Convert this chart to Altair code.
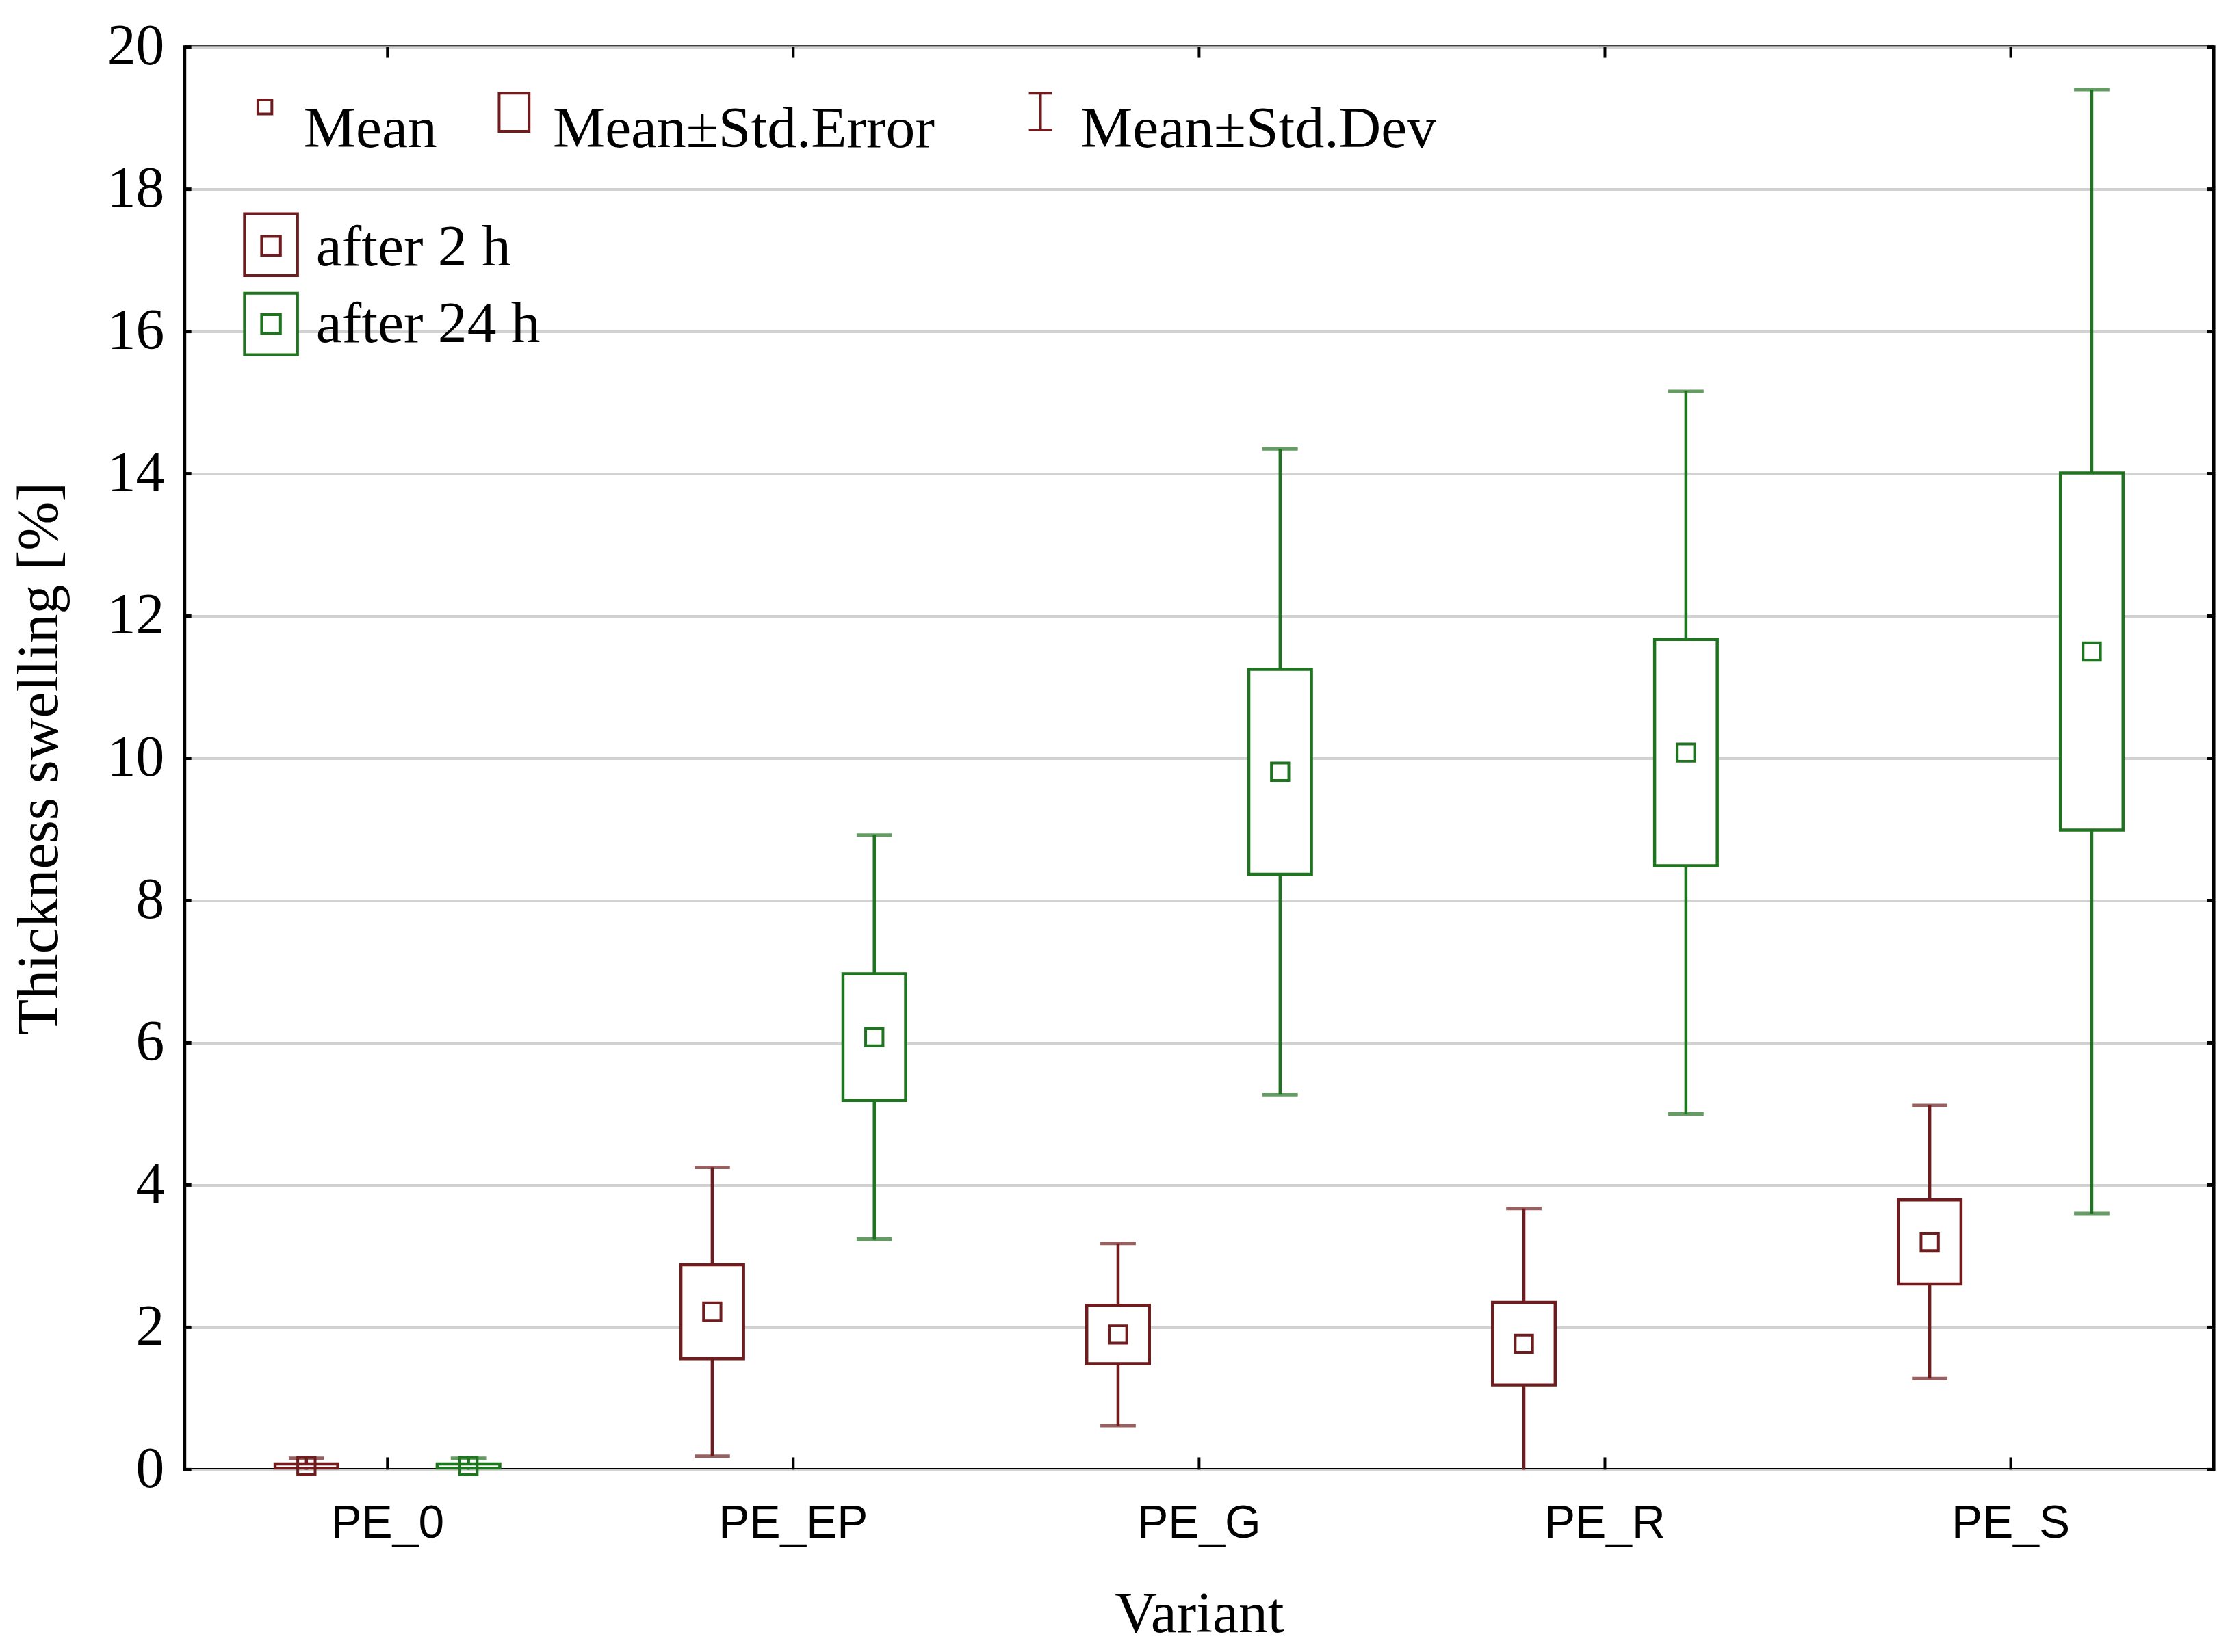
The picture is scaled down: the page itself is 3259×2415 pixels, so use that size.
import altair as alt
import pandas as pd

# ---- data ----
variants = ["PE_0", "PE_EP", "PE_G", "PE_R", "PE_S"]
groups = ["after 2 h", "after 24 h"]

mean_2h = [0.05, 2.22, 1.90, 1.77, 3.20]
se_2h = [0.03, 0.66, 0.41, 0.58, 0.59]
sd_2h = [0.11, 2.03, 1.28, 1.90, 1.92]

mean_24h = [0.05, 6.08, 9.81, 10.08, 11.50]
se_24h = [0.03, 0.89, 1.44, 1.59, 2.51]
sd_24h = [0.11, 2.84, 4.54, 5.08, 7.90]

y_ticks = [0, 2, 4, 6, 8, 10, 12, 14, 16, 18, 20]
stat_labels = ["Mean", "Mean\u00b1Std.Error", "Mean\u00b1Std.Dev"]
x_title = "Variant"
y_title = "Thickness swelling [%]"

RED = "#6E1C1E"
GREEN = "#1F7420"
SERIF = "Liberation Serif"
SANS = "Liberation Sans"

W, H = 2980, 2090

rows = []
for g, m, s, d in [(groups[0], mean_2h, se_2h, sd_2h), (groups[1], mean_24h, se_24h, sd_24h)]:
    for v, mm, ss, dd in zip(variants, m, s, d):
        rows.append(dict(variant=v, group=g, mean=mm, se_lo=mm - ss, se_hi=mm + ss,
                         sd_lo=mm - dd, sd_hi=mm + dd))
df = pd.DataFrame(rows)

xscale = alt.Scale(paddingInner=0, paddingOuter=0)
xaxis = alt.Axis(title=x_title, labelFont=SANS, labelFontSize=68, labelColor="black",
                 labelAngle=0, labelLimit=0, labelAlign="center", labelBaseline="top",
                 ticks=False, domain=False, labelPadding=46, grid=False,
                 titleFont=SERIF, titleFontSize=86, titleFontWeight="normal", titleColor="black",
                 titleX=W / 2, titleY=212, titleBaseline="middle", titleAlign="center")
yscale = alt.Scale(domain=[0, 20], nice=False)
yaxis = alt.Axis(title=y_title, values=y_ticks, labelFont=SERIF, labelFontSize=84,
                 labelColor="black", ticks=False, domain=False, labelPadding=30,
                 grid=True, gridColor="#D2D2D2", gridWidth=4,
                 titleFont=SERIF, titleFontSize=86, titleFontWeight="normal", titleColor="black",
                 titleAngle=270, titleX=-213, titleY=H / 2, titleBaseline="middle",
                 titleAlign="center")

X = alt.X("variant:N", sort=variants, scale=xscale, axis=xaxis)
XO = alt.XOffset("group:N", sort=groups, scale=alt.Scale(paddingOuter=0.252, paddingInner=0))
C = alt.Color("group:N", sort=groups, scale=alt.Scale(domain=groups, range=[RED, GREEN]), legend=None)


def Y(field):
    return alt.Y(field, type="quantitative", scale=yscale, axis=yaxis)


base = alt.Chart(df)

whisker = base.mark_rule(strokeWidth=4.5, clip=True).encode(
    x=X, xOffset=XO, y=Y("sd_lo"), y2="sd_hi", color=C)
cap_hi = base.mark_tick(thickness=5, size=52, clip=True).encode(
    x=X, xOffset=XO, y=Y("sd_hi"), color=C)
cap_lo = base.mark_tick(thickness=5, size=52, clip=True).encode(
    x=X, xOffset=XO, y=Y("sd_lo"), color=C)
box = base.mark_bar(width=92, fill="white", strokeWidth=4.5, clip=True).encode(
    x=X, xOffset=XO, y=Y("se_lo"), y2="se_hi", stroke=alt.Stroke("group:N", sort=groups,
    scale=alt.Scale(domain=groups, range=[RED, GREEN]), legend=None))
mean_pt = base.mark_point(shape="square", filled=False, size=650, strokeWidth=4, opacity=1).encode(
    x=X, xOffset=XO, y=Y("mean"), color=C)

# inward ticks on the frame
vt = alt.Chart(pd.DataFrame({"variant": variants}))
tick_bot = vt.mark_rule(color="black", strokeWidth=4).encode(
    x=X, y=alt.value(H), y2=alt.value(H - 18))
tick_top = vt.mark_rule(color="black", strokeWidth=4).encode(
    x=X, y=alt.value(0), y2=alt.value(16))
yt = alt.Chart(pd.DataFrame({"v": y_ticks}))
tick_l = yt.mark_rule(color="black", strokeWidth=5).encode(
    y=Y("v"), x=alt.value(0), x2=alt.value(10))
tick_r = yt.mark_rule(color="black", strokeWidth=5).encode(
    y=Y("v"), x=alt.value(W - 10), x2=alt.value(W))

# ---- legend (drawn inside the plot area) ----
one = alt.Chart(pd.DataFrame({"k": [0]}))


def ltext(label, x, y):
    return alt.Chart(pd.DataFrame({"t": [label]})).mark_text(
        align="left", baseline="alphabetic", font=SERIF, fontSize=86, color="black"
    ).encode(x=alt.value(x), y=alt.value(y), text="t:N")


leg = [
    one.mark_point(shape="square", filled=False, size=420, strokeWidth=4, color=RED, opacity=1).encode(
        x=alt.value(118), y=alt.value(88)),
    ltext(stat_labels[0], 175, 147),
    one.mark_rect(fill="white", stroke=RED, strokeWidth=4).encode(
        x=alt.value(462), x2=alt.value(506), y=alt.value(68), y2=alt.value(124)),
    ltext(stat_labels[1], 541, 147),
    one.mark_rule(color=RED, strokeWidth=4).encode(
        x=alt.value(1257), y=alt.value(68), y2=alt.value(122)),
    one.mark_rule(color=RED, strokeWidth=4).encode(
        x=alt.value(1240), x2=alt.value(1274), y=alt.value(68)),
    one.mark_rule(color=RED, strokeWidth=4).encode(
        x=alt.value(1240), x2=alt.value(1274), y=alt.value(122)),
    ltext(stat_labels[2], 1316, 147),
    one.mark_rect(fill="white", stroke=RED, strokeWidth=4).encode(
        x=alt.value(88), x2=alt.value(166), y=alt.value(245), y2=alt.value(336)),
    one.mark_point(shape="square", filled=False, size=760, strokeWidth=4, color=RED, opacity=1).encode(
        x=alt.value(127), y=alt.value(292)),
    ltext(groups[0], 193, 321),
    one.mark_rect(fill="white", stroke=GREEN, strokeWidth=4).encode(
        x=alt.value(88), x2=alt.value(166), y=alt.value(362), y2=alt.value(452)),
    one.mark_point(shape="square", filled=False, size=760, strokeWidth=4, color=GREEN, opacity=1).encode(
        x=alt.value(127), y=alt.value(407)),
    ltext(groups[1], 193, 433),
]

chart = alt.layer(
    whisker, cap_hi, cap_lo, box, mean_pt, tick_bot, tick_top, tick_l, tick_r, *leg
).properties(
    width=W, height=H, autosize="none",
    padding={"left": 263, "top": 55, "right": 16, "bottom": 262},
    background="white",
).configure_view(stroke="black", strokeWidth=5)

chart.save("out.html", embed_options={"renderer": "svg", "actions": False})
